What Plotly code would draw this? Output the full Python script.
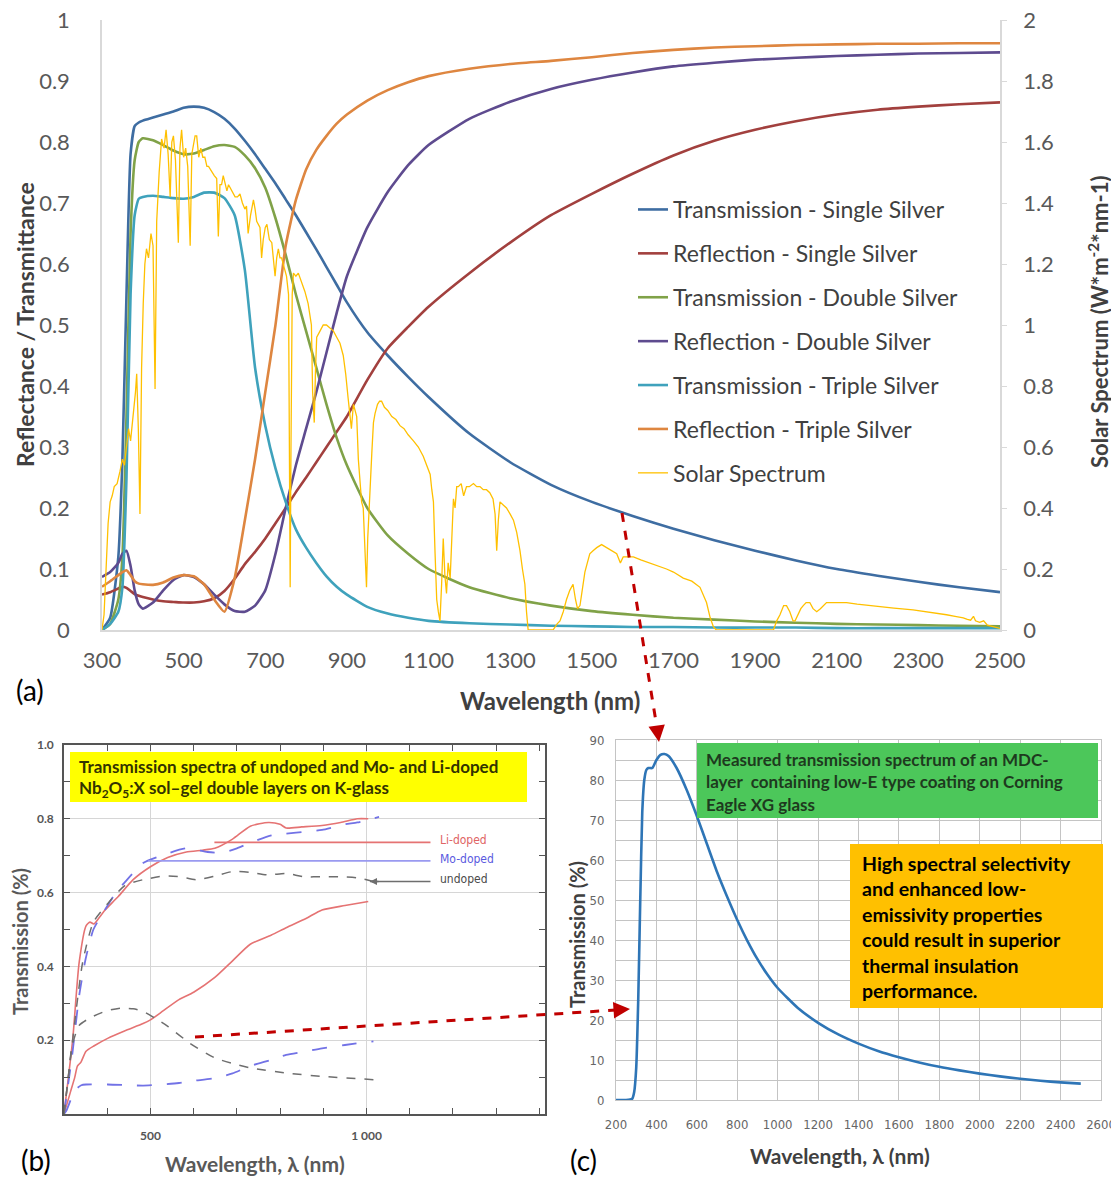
import plotly.graph_objects as go

# the page body keeps its default 8 px margin, so the figure is drawn 8 px in from the window edge
W, H = 1119, 1186
EDGE = 8

# ---------------- panel (a): simulated low-E stacks + AM1.5 solar spectrum
wl_a = [300, 320, 340, 350, 360, 370, 380, 390, 400,
        425, 450, 475, 500, 525, 550, 575,
        600, 625, 650, 675, 700, 725, 750, 775, 800, 825, 850, 875, 900,
        950, 1000, 1050, 1100,
        1200, 1300, 1400, 1500, 1600, 1700, 1800, 1900, 2000, 2100, 2200, 2300, 2400, 2500]

t_single = [0, 0.02, 0.12, 0.28, 0.55, 0.78, 0.826, 0.832, 0.835,
            0.84, 0.845, 0.85, 0.856, 0.858, 0.856, 0.849,
            0.838, 0.822, 0.802, 0.78, 0.756, 0.732, 0.706, 0.68, 0.652, 0.624, 0.595, 0.566, 0.537,
            0.488, 0.45, 0.415, 0.382,
            0.322, 0.275, 0.238, 0.21, 0.187, 0.166, 0.147, 0.13, 0.114, 0.1, 0.089, 0.079, 0.07, 0.062]
r_single = [0.058, 0.062, 0.068, 0.071, 0.069, 0.064, 0.059, 0.056, 0.054,
            0.05, 0.047, 0.046, 0.045, 0.045, 0.047, 0.052,
            0.064, 0.084, 0.108, 0.128, 0.15, 0.175, 0.2, 0.226, 0.25, 0.275, 0.3, 0.325, 0.35,
            0.41, 0.462, 0.497, 0.53,
            0.585, 0.635, 0.68, 0.715, 0.748, 0.778, 0.802, 0.82, 0.834, 0.845, 0.853, 0.858, 0.862, 0.865]
t_double = [0, 0.01, 0.05, 0.12, 0.35, 0.65, 0.77, 0.8, 0.806,
            0.803, 0.795, 0.786, 0.78, 0.781, 0.787, 0.793,
            0.795, 0.792, 0.778, 0.757, 0.725, 0.675, 0.615, 0.55, 0.49, 0.43, 0.37, 0.315, 0.27,
            0.2, 0.155, 0.125, 0.1,
            0.07, 0.052, 0.04, 0.031, 0.025, 0.02, 0.017, 0.014, 0.012, 0.01, 0.009, 0.008, 0.007, 0.006]
r_double = [0.087, 0.095, 0.11, 0.125, 0.13, 0.105, 0.065, 0.042, 0.035,
            0.045, 0.065, 0.082, 0.09, 0.087, 0.075, 0.058,
            0.042, 0.031, 0.03, 0.04, 0.065, 0.125, 0.2, 0.27, 0.33, 0.39, 0.455, 0.52, 0.58,
            0.66, 0.718, 0.762, 0.795,
            0.838, 0.866, 0.887, 0.902, 0.914, 0.924, 0.93, 0.935, 0.938, 0.941, 0.943, 0.945, 0.946, 0.947]
t_triple = [0, 0.01, 0.03, 0.07, 0.25, 0.55, 0.68, 0.707, 0.71,
            0.712, 0.71, 0.708, 0.707, 0.71, 0.717, 0.717,
            0.708, 0.68, 0.59, 0.43, 0.335, 0.265, 0.21, 0.165, 0.135, 0.11, 0.088, 0.071, 0.058,
            0.038, 0.027, 0.02, 0.015,
            0.011, 0.009, 0.007, 0.006, 0.005, 0.005, 0.004, 0.004, 0.004, 0.003, 0.003, 0.003, 0.003, 0.003]
r_triple = [0.071, 0.08, 0.09, 0.095, 0.098, 0.09, 0.08, 0.076, 0.075,
            0.074, 0.078, 0.086, 0.09, 0.088, 0.075, 0.05,
            0.03, 0.085, 0.18, 0.28, 0.39, 0.5, 0.63, 0.705, 0.755, 0.787, 0.81, 0.83, 0.845,
            0.868, 0.885, 0.898, 0.908,
            0.92, 0.928, 0.933, 0.939, 0.946, 0.951, 0.955, 0.957, 0.959, 0.96, 0.961, 0.961, 0.962, 0.962]

names_a = ["Transmission - Single Silver", "Reflection - Single Silver",
           "Transmission - Double Silver", "Reflection - Double Silver",
           "Transmission - Triple Silver", "Reflection - Triple Silver"]
colors_a = ["#3E6DA2", "#A2403E", "#80A248", "#5E4B8F", "#3FA2BC", "#DE8640"]

# solar spectrum, W*m-2*nm-1 (right axis)
solar_wl = [300, 305, 310, 315, 320, 325, 330, 337, 344, 350, 355, 360, 365, 370, 377, 382,
            385, 389, 393, 397, 401, 405, 409, 414, 420, 425, 430, 434, 440, 446, 452, 457,
            462, 467, 471, 475, 480, 487, 491, 495, 500, 505, 510, 516, 520, 524, 528, 532,
            537, 542, 547, 552, 557, 561, 565, 570, 575, 581, 585, 589, 593, 597, 602, 606,
            610, 614, 620, 626, 632, 638, 644, 650, 654, 658, 664, 671, 675, 679, 687, 691,
            695, 700, 704, 710, 716, 720, 724, 728, 732, 736, 740, 746, 752, 757, 759, 761,
            763, 766, 769, 775, 781, 789, 797, 805, 813, 816, 820, 823, 826, 834, 842, 850,
            859, 867, 875, 883, 891, 897, 903, 908, 911, 916, 920, 924, 928, 932, 936, 940,
            944, 948, 951, 954, 957, 961, 965, 969, 975, 980, 985, 992, 1000, 1010, 1020, 1030,
            1040, 1050, 1063, 1075, 1087, 1095, 1104, 1108, 1112, 1116, 1120, 1124, 1128, 1132, 1136, 1140,
            1144, 1148, 1153, 1157, 1161, 1165, 1169, 1173, 1180, 1186, 1193, 1200, 1210, 1218, 1226, 1234,
            1242, 1250, 1258, 1263, 1267, 1271, 1275, 1283, 1291, 1300, 1308, 1316, 1324, 1330, 1336, 1340,
            1344, 1360, 1380, 1405, 1415, 1422, 1430, 1438, 1446, 1454, 1460, 1465, 1471, 1477, 1483, 1489,
            1495, 1503, 1512, 1524, 1536, 1549, 1561, 1570, 1577, 1590, 1602, 1620, 1642, 1660, 1683, 1700,
            1724, 1745, 1765, 1781, 1790, 1798, 1805, 1850, 1900, 1945, 1953, 1961, 1970, 1977, 1985, 1993,
            1998, 2005, 2012, 2018, 2025, 2034, 2042, 2051, 2060, 2075, 2100, 2124, 2150, 2180, 2206, 2240,
            2287, 2320, 2350, 2369, 2390, 2410, 2420, 2428, 2435, 2440, 2450, 2460, 2469, 2480, 2490, 2500]
solar_w = [0.0, 0.05, 0.2, 0.35, 0.42, 0.44, 0.47, 0.48, 0.52, 0.56, 0.54, 0.6, 0.66, 0.62, 0.71, 0.78,
           0.84, 0.66, 0.38, 0.86, 1.07, 1.2, 1.25, 1.22, 1.3, 1.26, 0.79, 1.34, 1.5, 1.61, 1.58, 1.64,
           1.56, 1.42, 1.6, 1.62, 1.54, 1.27, 1.58, 1.64, 1.55, 1.58, 1.52, 1.26, 1.56, 1.59, 1.62, 1.62,
           1.55, 1.58, 1.55, 1.55, 1.52, 1.52, 1.51, 1.5, 1.49, 1.48, 1.29, 1.46, 1.46, 1.49, 1.46, 1.44,
           1.46, 1.45, 1.44, 1.42, 1.42, 1.43, 1.4, 1.38, 1.39, 1.3, 1.36, 1.41, 1.38, 1.34, 1.32, 1.22,
           1.28, 1.32, 1.33, 1.28, 1.27, 1.2, 1.16, 1.22, 1.25, 1.22, 1.22, 1.19, 1.16, 1.1, 0.4, 0.14,
           0.6, 1.1, 1.17, 1.16, 1.17, 1.14, 1.11, 1.07, 1.0, 0.78, 0.68, 0.85, 0.96, 0.98, 1.0, 1.0,
           0.99, 0.98, 0.96, 0.94, 0.9, 0.84, 0.76, 0.7, 0.66, 0.74, 0.72, 0.7, 0.56, 0.49, 0.42, 0.4,
           0.25, 0.14, 0.3, 0.4, 0.46, 0.58, 0.68, 0.71, 0.74, 0.75, 0.75, 0.73, 0.72, 0.7, 0.69, 0.67,
           0.66, 0.64, 0.62, 0.6, 0.57, 0.54, 0.51, 0.46, 0.42, 0.25, 0.1, 0.06, 0.03, 0.15, 0.3, 0.18,
           0.12, 0.22, 0.17, 0.3, 0.43, 0.4, 0.47, 0.47, 0.48, 0.44, 0.47, 0.47, 0.48, 0.47, 0.47, 0.46,
           0.46, 0.45, 0.43, 0.38, 0.26, 0.36, 0.42, 0.41, 0.4, 0.38, 0.36, 0.32, 0.26, 0.2, 0.15, 0.06,
           0.0, 0.0, 0.0, 0.0, 0.02, 0.03, 0.06, 0.1, 0.13, 0.15, 0.1, 0.07, 0.08, 0.14, 0.19, 0.22,
           0.25, 0.26, 0.27, 0.28, 0.27, 0.26, 0.25, 0.22, 0.24, 0.24, 0.24, 0.23, 0.22, 0.21, 0.2, 0.19,
           0.17, 0.16, 0.14, 0.09, 0.04, 0.01, 0.0, 0.0, 0.0, 0.0, 0.03, 0.05, 0.08, 0.08, 0.06, 0.03,
           0.03, 0.05, 0.07, 0.08, 0.09, 0.09, 0.07, 0.06, 0.07, 0.09, 0.09, 0.09, 0.085, 0.08, 0.077, 0.072,
           0.066, 0.06, 0.055, 0.05, 0.045, 0.04, 0.035, 0.032, 0.045, 0.03, 0.025, 0.03, 0.016, 0.012, 0.008, 0.005]

x_ticks_a = list(range(300, 2501, 200))

# ---------------- panel (b): Nb2O5:X sol-gel layers on K-glass
li_up_wl = [300, 320, 335, 351, 360, 369, 380, 393, 426, 460, 500, 540, 583, 620, 649, 690, 731, 773, 800,
            814, 850, 897, 940, 979, 1004]
li_up_t = [0, 0.2, 0.41, 0.51, 0.52, 0.515, 0.53, 0.55, 0.59, 0.635, 0.67, 0.695, 0.71, 0.715, 0.72, 0.745,
           0.78, 0.79, 0.785, 0.775, 0.778, 0.782, 0.79, 0.8, 0.8]
li_low_wl = [300, 315, 325, 331, 339, 351, 370, 401, 440, 483, 500, 530, 566, 600, 649, 690, 731, 780, 814,
             860, 897, 950, 1004]
li_low_t = [0, 0.06, 0.1, 0.13, 0.14, 0.17, 0.185, 0.205, 0.225, 0.245, 0.255, 0.28, 0.31, 0.33, 0.37, 0.415,
            0.46, 0.485, 0.505, 0.53, 0.553, 0.565, 0.576]
mo_up_wl = [300, 320, 335, 350, 368, 393, 420, 442, 483, 525, 583, 632, 665, 700, 731, 780, 814, 860, 897,
            950, 979, 1029]
mo_up_t = [0, 0.17, 0.32, 0.42, 0.5, 0.55, 0.6, 0.63, 0.68, 0.7, 0.72, 0.71, 0.708, 0.72, 0.735, 0.755, 0.76,
           0.765, 0.77, 0.785, 0.79, 0.805]
mo_low_wl = [300, 306, 316, 326, 340, 351, 401, 450, 483, 530, 566, 600, 649, 690, 731, 780, 814, 860, 897,
             950, 1016]
mo_low_t = [0, 0.01, 0.04, 0.065, 0.078, 0.08, 0.08, 0.078, 0.077, 0.08, 0.084, 0.09, 0.097, 0.11, 0.13,
            0.147, 0.16, 0.17, 0.178, 0.187, 0.197]
un_up_wl = [300, 320, 343, 368, 401, 442, 483, 533, 570, 607, 650, 690, 730, 773, 814, 855, 900, 938, 980, 1016]
un_up_t = [0, 0.2, 0.41, 0.52, 0.57, 0.62, 0.635, 0.645, 0.643, 0.635, 0.645, 0.657, 0.655, 0.648, 0.652,
           0.643, 0.643, 0.643, 0.64, 0.63]
un_low_wl = [300, 310, 318, 335, 368, 400, 434, 460, 483, 510, 541, 591, 649, 690, 731, 814, 897, 1016]
un_low_t = [0, 0.1, 0.18, 0.24, 0.265, 0.28, 0.287, 0.285, 0.278, 0.26, 0.237, 0.192, 0.152, 0.137, 0.125,
            0.111, 0.102, 0.093]

labels_b = ["Li-doped", "Mo-doped", "undoped"]
label_colors_b = ["#E06464", "#5A5AE0", "#4A4A4A"]
leader_start_b = [648, 495, 1008]
leader_end_b = [1148, 1148, 1148]
leader_level_b = [0.736, 0.686, 0.63]

# ---------------- panel (c): measured MDC-layer on Eagle XG
wl_c = [200, 250, 280, 290, 300, 310, 320, 330, 340, 350, 360, 380, 400, 420, 440, 460, 500, 550, 600,
        650, 700, 750, 800, 850, 900, 950, 1000, 1100, 1200, 1300, 1400, 1500, 1600, 1700, 1800, 1900,
        2000, 2100, 2200, 2300, 2400, 2500]
t_c = [0, 0, 0.3, 2, 8, 25, 50, 72, 80, 82.5, 83, 83, 85, 86.3, 86.5, 86, 83, 77.5, 71,
       64, 57, 50.8, 45, 39.8, 35.2, 31.3, 28, 23, 19.3, 16.4, 14.1, 12.2, 10.7, 9.4, 8.3, 7.4,
       6.6, 5.9, 5.3, 4.8, 4.4, 4.1]

note_lines_c = ["High spectral selectivity", "and enhanced low-", "emissivity properties",
                "could result in superior", "thermal insulation", "performance."]
green_lines_c = ["Measured transmission spectrum of an MDC-",
                 "layer  containing low-E type coating on Corning", "Eagle XG glass"]
yellow_lines_b = ["Transmission spectra of undoped and Mo- and Li-doped",
                  "Nb<sub>2</sub>O<sub>5</sub>:X sol\u2013gel double layers on K-glass"]

FONT = "Lato, 'Open Sans', sans-serif"
NARROW = "'Liberation Sans Narrow', 'DejaVu Sans Condensed', Roboto, sans-serif"

# keep the page (figure + body margins) inside the window so no scrollbar eats the right edge
FW, FH = W - EDGE, H - 2 * EDGE


def px(x):
    return (x - EDGE) / FW


def py(y):
    return 1 - (y - EDGE) / FH


fig = go.Figure()

for name, vals, color in zip(names_a, [t_single, r_single, t_double, r_double, t_triple, r_triple], colors_a):
    fig.add_trace(go.Scatter(x=wl_a, y=vals, name=name, legendgroup=name, mode="lines",
                             line=dict(color=color, width=2.6, shape="spline", smoothing=0.5),
                             xaxis="x", yaxis="y"))
fig.add_trace(go.Scatter(x=solar_wl, y=solar_w, name="Solar Spectrum", legendgroup="solar", mode="lines",
                         line=dict(color="#FFC000", width=1.3), xaxis="x", yaxis="y2"))

# panel (b) curves
red_b, blue_b, grey_b = "#E57373", "#7272E6", "#6E6E6E"
for xs, ys, color, dash, w in [(li_up_wl, li_up_t, red_b, "solid", 1.6),
                               (li_low_wl, li_low_t, red_b, "solid", 1.6),
                               (mo_up_wl, mo_up_t, blue_b, "longdash", 1.8),
                               (mo_low_wl, mo_low_t, blue_b, "longdash", 1.8),
                               (un_up_wl, un_up_t, grey_b, "dash", 1.5),
                               (un_low_wl, un_low_t, grey_b, "dash", 1.5)]:
    fig.add_trace(go.Scatter(x=xs, y=ys, mode="lines", showlegend=False, hoverinfo="skip",
                             line=dict(color=color, width=w, dash=dash, shape="spline", smoothing=0.6),
                             xaxis="x2", yaxis="y3"))
for x0, x1, lvl, color in zip(leader_start_b, leader_end_b, leader_level_b, [red_b, "#9A9AF0", grey_b]):
    fig.add_trace(go.Scatter(x=[x0, x1], y=[lvl, lvl], mode="lines", showlegend=False, hoverinfo="skip",
                             line=dict(color=color, width=1.6), xaxis="x2", yaxis="y3"))

# panel (c) curve
fig.add_trace(go.Scatter(x=wl_c, y=t_c, mode="lines", showlegend=False,
                         line=dict(color="#2E75B6", width=2.6, shape="spline", smoothing=0.5),
                         xaxis="x3", yaxis="y4"))

a_tick = dict(family=FONT, size=22, color="#595959")
b_tick = dict(family=FONT, size=12, color="#555", weight="bold")
c_tick = dict(family=NARROW, size=13, color="#666")
fig.update_layout(
    width=FW, height=FH, margin=dict(l=0, r=0, t=0, b=0, autoexpand=False),
    paper_bgcolor="white", plot_bgcolor="white",
    font=dict(family=FONT, color="#404040"),
    legend=dict(x=px(633), y=py(188), xanchor="left", yanchor="top", bgcolor="rgba(0,0,0,0)",
                font=dict(family=FONT, size=23, color="#404040"), itemwidth=30,
                traceorder="grouped", tracegroupgap=11),
    xaxis=dict(domain=[px(102), px(1000)], range=[300, 2500], anchor="y", tickvals=x_ticks_a,
               showline=True, linecolor="#D9D9D9", linewidth=1.5, showgrid=False, zeroline=False,
               ticks="", tickfont=a_tick, ticklabelstandoff=10, automargin=False,
               ticklabeloverflow="allow"),
    yaxis=dict(domain=[py(630), py(20)], range=[0, 1], dtick=0.1, anchor="x",
               showline=True, linecolor="#D9D9D9", linewidth=1.5, showgrid=False, zeroline=False,
               ticks="", tickfont=a_tick, ticklabelstandoff=26, automargin=False,
               ticklabeloverflow="allow"),
    yaxis2=dict(overlaying="y", side="right", anchor="x", range=[0, 2], dtick=0.2,
                showline=True, linecolor="#D9D9D9", linewidth=1.5, showgrid=False, zeroline=False,
                ticks="outside", ticklen=5, tickcolor="#D9D9D9", tickfont=a_tick, ticklabelstandoff=12,
                automargin=False, ticklabeloverflow="allow"),
    xaxis2=dict(domain=[px(64), px(545)], range=[300, 1413], anchor="y3",
                tickvals=[500, 1000], ticktext=["500", "1 000"],
                ticks="inside", ticklen=6, tickcolor="#555", mirror="allticks",
                minor=dict(dtick=100, tick0=300, ticks="inside", ticklen=6, tickcolor="#555", showgrid=False),
                showline=True, linecolor="#555", linewidth=1.5, showgrid=True, gridcolor="#D6D6D6",
                zeroline=False, tickfont=b_tick, ticklabelstandoff=10, automargin=False,
                ticklabeloverflow="allow"),
    yaxis3=dict(domain=[py(1114), py(745)], range=[0, 1.0], anchor="x2",
                tickvals=[0.2, 0.4, 0.6, 0.8, 1.0], ticktext=["0.2", "0.4", "0.6", "0.8", "1.0"],
                ticks="inside", ticklen=6, tickcolor="#555", mirror="allticks",
                minor=dict(dtick=0.1, ticks="inside", ticklen=6, tickcolor="#555", showgrid=False),
                showline=True, linecolor="#555", linewidth=1.5, showgrid=True, gridcolor="#D6D6D6",
                zeroline=False, tickfont=b_tick, ticklabelstandoff=6, automargin=False,
                ticklabeloverflow="allow"),
    xaxis3=dict(domain=[px(616), px(1101)], range=[200, 2600], dtick=200, anchor="y4",
                showline=True, mirror=True, linecolor="#C4C4C4", showgrid=True, gridcolor="#C4C4C4",
                zeroline=False, ticks="", tickfont=c_tick, ticklabelstandoff=12, automargin=False,
                ticklabeloverflow="allow"),
    yaxis4=dict(domain=[py(1100), py(740)], range=[0, 90], dtick=10, anchor="x3",
                showline=True, mirror=True, linecolor="#C4C4C4", showgrid=True, gridcolor="#C4C4C4",
                minor=dict(dtick=5, showgrid=True, gridcolor="#C4C4C4"),
                zeroline=False, ticks="", tickfont=c_tick, ticklabelstandoff=8, automargin=False,
                ticklabeloverflow="allow"),
)

shapes = [
    dict(type="rect", xref="paper", yref="paper", x0=px(70), x1=px(527), y0=py(802), y1=py(752),
         fillcolor="#FFFF00", line=dict(width=0), layer="above"),
    dict(type="rect", xref="paper", yref="paper", x0=px(697), x1=px(1098), y0=py(818), y1=py(743),
         fillcolor="#4CC75A", line=dict(width=0), layer="above"),
    dict(type="rect", xref="paper", yref="paper", x0=px(850), x1=px(1103), y0=py(1008), y1=py(844),
         fillcolor="#FFC000", line=dict(width=0), layer="above"),
    dict(type="line", xref="paper", yref="paper", x0=px(622), y0=py(513), x1=px(657), y1=py(728),
         line=dict(color="#C00000", width=3, dash="dash"), layer="above"),
    dict(type="line", xref="paper", yref="paper", x0=px(195), y0=py(1037), x1=px(616), y1=py(1010),
         line=dict(color="#C00000", width=3, dash="dash"), layer="above"),
]

ann = []


def note(text, x, y, size, color="#404040", bold=True, angle=0, xanchor="center", family=FONT):
    ann.append(dict(text=text, x=px(x), y=py(y), xref="paper", yref="paper", showarrow=False,
                    textangle=angle, xanchor=xanchor, yanchor="middle",
                    font=dict(family=family, size=size, color=color, weight="bold" if bold else "normal")))


# panel (a) titles
note("Reflectance / Transmittance", 25, 325, 23, angle=-90)
note("Solar Spectrum (W*m<sup>-2</sup>*nm-1)", 1099, 322, 22, angle=-90)
note("Wavelength (nm)", 550, 700, 24)
note("(a)", 30, 690, 28, color="black", bold=False)
# panel (b)
note("Transmission (%)", 20, 942, 20, color="#595959", angle=-90)
note("Wavelength, \u03bb (nm)", 255, 1163, 21, color="#595959")
note("(b)", 36, 1160, 28, color="black", bold=False)
for txt, lvl, col in zip(labels_b, leader_level_b, label_colors_b):
    ann.append(dict(text=txt, x=1165, y=lvl + 0.006, xref="x2", yref="y3", showarrow=False,
                    xanchor="left", yanchor="middle",
                    font=dict(family=NARROW, size=12, color=col)))
ann.append(dict(text="", x=leader_start_b[2], y=leader_level_b[2], xref="x2", yref="y3",
                ax=10, ay=0, showarrow=True, arrowhead=2, arrowsize=1, arrowwidth=1.4,
                arrowcolor=grey_b))
for i, line in enumerate(yellow_lines_b):
    note(line, 77, 766 + i * 23, 17, color="#333300", xanchor="left")
# panel (c)
note("Transmission (%)", 577, 935, 20, color="#404040", angle=-90)
note("Wavelength, \u03bb (nm)", 840, 1155, 21, color="#404040")
note("(c)", 583, 1160, 28, color="black", bold=False)
for i, line in enumerate(green_lines_c):
    note(line, 704, 759 + i * 22.5, 17, color="#1E3A1E", xanchor="left")
for i, line in enumerate(note_lines_c):
    note(line, 860, 863 + i * 25.5, 19.5, color="black", xanchor="left")

# arrowheads of the red dashed connectors
ann.append(dict(text="", x=px(659), y=py(742), xref="paper", yref="paper", ax=-2, ay=-14,
                showarrow=True, arrowhead=2, arrowsize=1.1, arrowwidth=3, arrowcolor="#C00000"))
ann.append(dict(text="", x=px(630), y=py(1009), xref="paper", yref="paper", ax=-14, ay=1,
                showarrow=True, arrowhead=2, arrowsize=1.1, arrowwidth=3, arrowcolor="#C00000"))

fig.update_layout(shapes=shapes, annotations=ann)

fig.write_html("out.html")
